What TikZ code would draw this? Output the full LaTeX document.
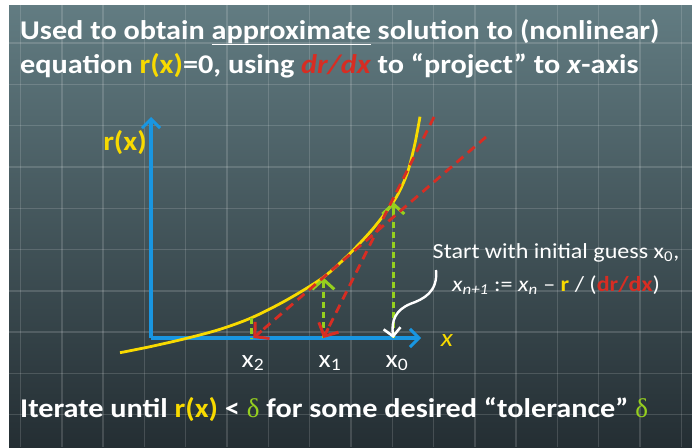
\documentclass[tikz,border=0pt]{standalone}
\usepackage{fontspec}
\setmainfont{Carlito}[FakeStretch=1.12]
\newfontfamily\greekfont{Liberation Serif}
\usetikzlibrary{arrows.meta,calc}

\definecolor{slidetop}{RGB}{98,124,130}
\definecolor{slidebot}{RGB}{36,46,51}
\definecolor{curveyellow}{RGB}{248,218,0}
\definecolor{tangentred}{RGB}{215,45,35}
\definecolor{guessgreen}{RGB}{150,208,30}
\definecolor{axisblue}{RGB}{25,150,225}

\begin{document}
\begin{tikzpicture}[
    x=1pt,
    y=-1pt,
    gridline/.style={white, opacity=0.15, line width=1.4pt},
    headline/.style={
        anchor=base west,
        inner sep=0pt,
        text=white,
        font=\fontsize{27}{30}\selectfont\bfseries
    },
    axis/.style={
        axisblue,
        line width=3.2pt,
        -{Straight Barb[length=9pt,width=18pt,line width=3pt]}
    },
    rcurve/.style={curveyellow, line width=2.8pt},
    tangent/.style={
        tangentred,
        line width=2.8pt,
        dash pattern=on 9pt off 6pt
    },
    tangenttip/.style={
        tangentred,
        line width=2.8pt,
        -{Straight Barb[length=10pt,width=22pt,line width=3pt]}
    },
    project/.style={
        guessgreen,
        line width=2.8pt,
        dash pattern=on 6pt off 4pt
    },
    projecttip/.style={
        guessgreen,
        line width=2.8pt,
        -{Straight Barb[length=10pt,width=22pt,line width=3pt]}
    },
    xlabel/.style={
        anchor=base,
        inner sep=0pt,
        text=white,
        font=\fontsize{25}{28}\selectfont
    },
    note/.style={
        anchor=base,
        inner sep=0pt,
        text=white,
        font=\fontsize{21.5}{25}\selectfont
    }
]

\useasboundingbox (0,0) rectangle (692,447);

% slide background
\fill[white] (0,0) rectangle (692,447);
\shade[top color=slidetop, bottom color=slidebot] (9,5) rectangle (692,447);

% grid
\begin{scope}
    \clip (9,5) rectangle (692,447);
    \foreach \gx in {0,...,16}
        \draw[gridline] (20.5+41.3*\gx,5) -- (20.5+41.3*\gx,447);
    \foreach \gy in {-1,...,9}
        \draw[gridline] (9,43+41.3*\gy) -- (692,43+41.3*\gy);
\end{scope}

% heading
\node[headline] (title1) at (20,39)
    {Used to obtain \underline{approximate} solution to (nonlinear)};
\node[headline] (title2) at (20,73)
    {equation \textcolor{curveyellow}{r(x)}=0, using \textcolor{tangentred}{\itshape dr/dx} to “project” to \textit{x}-axis};

% axes
\coordinate (O) at (151,338);
\coordinate (ytop) at (151,117);
\coordinate (xend) at (421,338);
\draw[axis] (O) -- (ytop);
\draw[axis] (O) -- (xend);
\node[inner sep=0pt, text=curveyellow, font=\fontsize{27}{30}\selectfont\bfseries] (rlabel) at (125,143) {r(x)};
\node[inner sep=0pt, text=curveyellow, font=\fontsize{25}{28}\selectfont\itshape] (xlab) at (447,341) {x};

% the function
\draw[rcurve] plot[smooth, tension=0.5] coordinates
    {(120,352.7) (150,346.7) (186.7,338.3) (220,329.3) (251.7,317.7) (286.7,300)
     (323.3,277.3) (350,253.3) (373.3,228.3) (393.3,202) (401.7,186.7) (408.3,170)
     (415,143.3) (420,116.7)};

% iterates on the curve and on the axis
\coordinate (p0) at (393.3,202);
\coordinate (p1) at (323.3,277.3);
\coordinate (p2) at (251.7,317.7);
\coordinate (a0) at (393.3,338);
\coordinate (a1) at (323.3,338);
\coordinate (a2) at (253.3,338);
\coordinate (t0) at (434,117);
\coordinate (t1) at (486,137);

% back up to the curve
\draw[project] (a0) -- ($(p0)!11pt!(a0)$);
\draw[projecttip] ($(p0)!11pt!(a0)$) -- (p0);
\draw[project] (a1) -- ($(p1)!11pt!(a1)$);
\draw[projecttip] ($(p1)!11pt!(a1)$) -- (p1);
\draw[project] (p2) -- (251.7,338);

% tangent lines
\draw[tangent] (t0) -- ($(a1)!11pt!(t0)$);
\draw[tangenttip] ($(a1)!11pt!(t0)$) -- (a1);
\draw[tangent] (t1) -- ($(a2)!11pt!(t1)$);
\draw[tangenttip] ($(a2)!11pt!(t1)$) -- (a2);

\node[xlabel] (x2) at (253,367) {x\textsubscript{2}};
\node[xlabel] (x1) at (330,367) {x\textsubscript{1}};
\node[xlabel] (x0) at (397,367) {x\textsubscript{0}};

% starting guess
\node[note] (guess) at (556,258) {Start with initial guess x\textsubscript{0},};
\node[note] (update) at (556,291)
    {\textit{x}\textsubscript{\itshape n+1} := \textit{x}\textsubscript{\itshape n} – \textbf{\color{curveyellow}r} / (\textbf{\color{tangentred}dr/dx})};
\coordinate (tail) at (436,270);
\draw[white, line width=2.4pt, -{Straight Barb[length=8pt,width=17pt,line width=2.6pt]}]
    (tail) .. controls (438,292) and (424,299) .. (410,304)
           .. controls (396,310) and (391,320) .. (a0);

% stopping rule
\node[headline] (iterate) at (20,417)
    {Iterate until \textcolor{curveyellow}{r(x)} < \textcolor{guessgreen}{\greekfont\mdseries δ} for some desired “tolerance” \textcolor{guessgreen}{\greekfont\mdseries δ}};

\end{tikzpicture}
\end{document}
